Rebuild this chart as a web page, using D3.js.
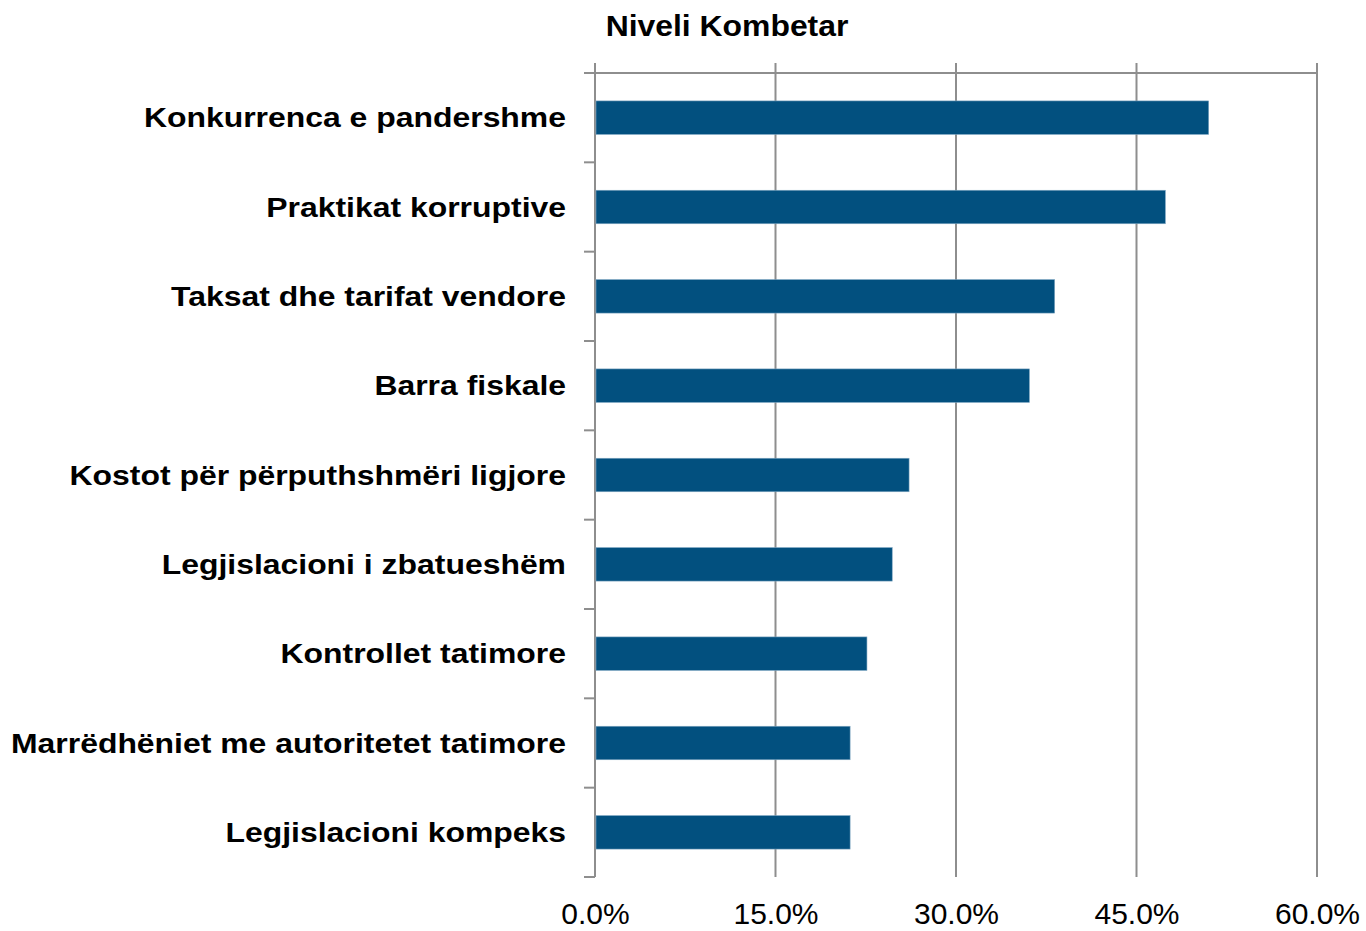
<!DOCTYPE html>
<html>
<head>
<meta charset="utf-8">
<script src="https://cdn.jsdelivr.net/npm/d3@7"></script>
<style>
    body { margin: 0; background: #fff; }
    svg { display: block; font-family: "Liberation Sans", Arial, sans-serif; }
</style>
</head>
<body>
<div id="chart"></div>
<script>
const categories = [
    'Konkurrenca e pandershme',
    'Praktikat korruptive',
    'Taksat dhe tarifat vendore',
    'Barra fiskale',
    'Kostot për përputhshmëri ligjore',
    'Legjislacioni i zbatueshëm',
    'Kontrollet tatimore',
    'Marrëdhëniet me autoritetet tatimore',
    'Legjislacioni kompeks'
];
const values = [51.0, 47.4, 38.2, 36.1, 26.1, 24.7, 22.6, 21.2, 21.2];
const xTicks = [0, 15, 30, 45, 60];
const title = 'Niveli Kombetar';

const width = 1366, height = 931;
const margin = { top: 73, right: 49, bottom: 54, left: 595 };

let svg = d3.select('#chart').append('svg')
    .attr('width', width)
    .attr('height', height);

let x = d3.scaleLinear()
    .domain([0, 60])
    .range([margin.left, width - margin.right]);

let y = d3.scaleBand()
    .domain(categories)
    .range([margin.top, height - margin.bottom])
    .paddingInner(0.625)
    .paddingOuter(0.3125);

const gridColor = '#8e8e8e';

// Vertical gridlines (include the left axis line).
svg.append('g')
    .selectAll('line')
    .data(xTicks)
  .enter().append('line')
    .attr('x1', d => x(d))
    .attr('x2', d => x(d))
    .attr('y1', margin.top - 10)
    .attr('y2', height - margin.bottom)
    .attr('stroke', gridColor)
    .attr('stroke-width', 2);

// Top horizontal line.
svg.append('line')
    .attr('x1', margin.left - 11)
    .attr('x2', x(60))
    .attr('y1', margin.top)
    .attr('y2', margin.top)
    .attr('stroke', gridColor)
    .attr('stroke-width', 2);

// Category boundary ticks on the left axis.
let step = y.step();
let boundaries = d3.range(categories.length + 1).map(i => margin.top + i * step);
svg.append('g')
    .selectAll('line')
    .data(boundaries)
  .enter().append('line')
    .attr('x1', margin.left - 11)
    .attr('x2', margin.left)
    .attr('y1', d => d)
    .attr('y2', d => d)
    .attr('stroke', gridColor)
    .attr('stroke-width', 2);

// Bars.
svg.append('g')
    .selectAll('rect')
    .data(values)
  .enter().append('rect')
    .attr('x', x(0) + 1)
    .attr('y', (d, i) => y(categories[i]))
    .attr('width', d => x(d) - x(0) - 1)
    .attr('height', y.bandwidth())
    .attr('fill', '#02507f')
    .attr('stroke', '#7fa6c2')
    .attr('stroke-width', 0.6);

// Category labels (text in the source is slightly stretched horizontally).
svg.append('g')
    .selectAll('text')
    .data(categories)
  .enter().append('text')
    .attr('transform', d => `translate(${margin.left - 29},${y(d) + y.bandwidth() / 2}) scale(1.14,1)`)
    .attr('dy', '0.35em')
    .attr('text-anchor', 'end')
    .attr('font-size', 28)
    .attr('font-weight', 'bold')
    .attr('fill', '#000')
    .text(d => d);

// Value axis labels.
let xAxis = d3.axisBottom(x)
    .tickValues(xTicks)
    .tickSize(0)
    .tickPadding(26)
    .tickFormat(d => d3.format('.1f')(d) + '%');

svg.append('g')
    .attr('transform', `translate(0,${height - margin.bottom})`)
    .call(xAxis)
    .call(g => g.select('.domain').remove())
    .call(g => g.selectAll('text')
        .attr('font-size', 30)
        .attr('font-family', '"Liberation Sans", Arial, sans-serif')
        .attr('fill', '#000'));

// Title.
svg.append('text')
    .attr('transform', 'translate(727,36) scale(1.1,1)')
    .attr('text-anchor', 'middle')
    .attr('font-size', 29)
    .attr('font-weight', 'bold')
    .text(title);
</script>
</body>
</html>
